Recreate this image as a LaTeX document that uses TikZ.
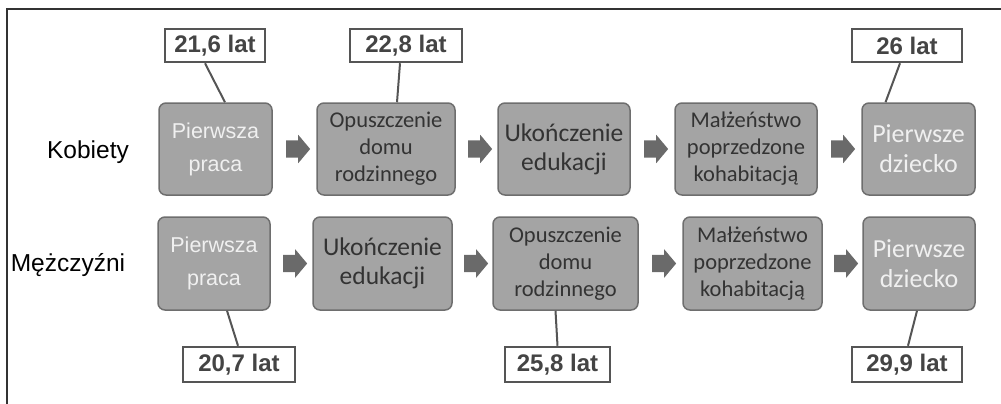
\documentclass[tikz,border=0pt]{standalone}
\usepackage{fontspec}
\usepackage{tikz}
\usetikzlibrary{positioning}
\usetikzlibrary{shapes.arrows}
\newfontfamily\arialfont{Liberation Sans}
\newfontfamily\calfont{Carlito}
\definecolor{boxgray}{HTML}{A4A4A4}
\definecolor{edgegray}{HTML}{6E6E6E}
\definecolor{arrowgray}{HTML}{6A6A6A}
\definecolor{txtdark}{HTML}{333333}
\definecolor{lblgray}{HTML}{555555}

\begin{document}
\begin{tikzpicture}[x=1pt, y=-1pt,
    stage/.style={rectangle, rounded corners=7pt, draw=edgegray, line width=1.5pt, fill=boxgray, minimum height=92pt, align=center, text=txtdark, inner sep=0pt},
    light/.style={text=white!94!black},
    small/.style={font=\calfont\fontsize{22.5}{27}\selectfont},
    big/.style={font=\calfont\fontsize{25.5}{29}\selectfont},
    arialtxt/.style={font=\arialfont\fontsize{21.5}{33}\selectfont},
    age/.style={rectangle, draw=lblgray, line width=2.5pt, fill=white, minimum height=33pt, inner sep=0pt, font=\arialfont\bfseries\fontsize{24}{28}\selectfont, text=lblgray!80!black},
    link/.style={draw=lblgray, line width=2pt},
    blockarrow/.style={single arrow, fill=arrowgray, minimum height=24pt, inner xsep=0pt, inner ysep=8.5pt, single arrow head extend=5.5pt, single arrow tip angle=100},
    rowname/.style={font=\arialfont\fontsize{24.5}{28}\selectfont, text=black}
]
\useasboundingbox (0,0) rectangle (1001,404);

% frame
\draw[line width=2pt, txtdark] (7,404) -- (7,9) -- (1001,9);

% row names
\node[rowname] (kob) at (88,152) {Kobiety};
\node[rowname] (mez) at (68,265) {Mężczyźni};

% Kobiety
\node[stage, arialtxt, light, minimum width=113pt] (k1) at (215.5,149) {Pierwsza\\praca};
\node[stage, small, minimum width=138pt] (k2) at (386,149) {Opuszczenie\\domu\\rodzinnego};
\node[stage, big, minimum width=132pt] (k3) at (564,149) {Ukończenie\\edukacji};
\node[stage, small, minimum width=142pt] (k4) at (746,149) {Małżeństwo\\poprzedzone\\kohabitacją};
\node[stage, light, font=\calfont\fontsize{26}{30}\selectfont, minimum width=113pt] (k5) at (918.5,149) {Pierwsze\\dziecko};

% Mężczyźni
\node[stage, arialtxt, light, minimum width=112pt, minimum height=93pt] (m1) at (214,263.5) {Pierwsza\\praca};
\node[stage, big, minimum width=139pt, minimum height=93pt] (m2) at (382.5,263.5) {Ukończenie\\edukacji};
\node[stage, small, minimum width=145pt, minimum height=93pt] (m3) at (565.5,263.5) {Opuszczenie\\domu\\rodzinnego};
\node[stage, small, minimum width=139pt, minimum height=93pt] (m4) at (752.5,263.5) {Małżeństwo\\poprzedzone\\kohabitacją};
\node[stage, light, font=\calfont\fontsize{26}{30}\selectfont, minimum width=112pt, minimum height=93pt] (m5) at (919,263.5) {Pierwsze\\dziecko};

% ages
\node[age, minimum width=100pt] (a1) at (215,45.5) {21,6 lat};
\node[age, minimum width=112pt] (a2) at (406,45.5) {22,8 lat};
\node[age, minimum width=110pt] (a3) at (907,45.5) {26 lat};
\node[age, minimum width=112pt, minimum height=35pt] (b1) at (239,364.5) {20,7 lat};
\node[age, minimum width=105pt, minimum height=35pt] (b2) at (557.5,364.5) {25,8 lat};
\node[age, minimum width=110pt, minimum height=35pt] (b3) at (907,364.5) {29,9 lat};

% links
\draw[link] ([xshift=-10pt]a1.south) -- ([xshift=9.5pt]k1.north);
\draw[link] ([xshift=-6pt]a2.south) -- ([xshift=11pt]k2.north);
\draw[link] ([xshift=-7pt]a3.south) -- ([xshift=-33pt]k5.north);
\draw[link] ([xshift=13pt]m1.south) -- ([xshift=-1pt]b1.north);
\draw[link] ([xshift=-10pt]m3.south) -- (b2.north);
\draw[link] ([xshift=-2pt]m5.south) -- ([xshift=1pt]b3.north);

% block arrows
\foreach \a/\b in {k1/k2, k2/k3, k3/k4, k4/k5, m1/m2, m2/m3, m3/m4, m4/m5}
  \path (\a) -- node[blockarrow] {} (\b);

\end{tikzpicture}
\end{document}
